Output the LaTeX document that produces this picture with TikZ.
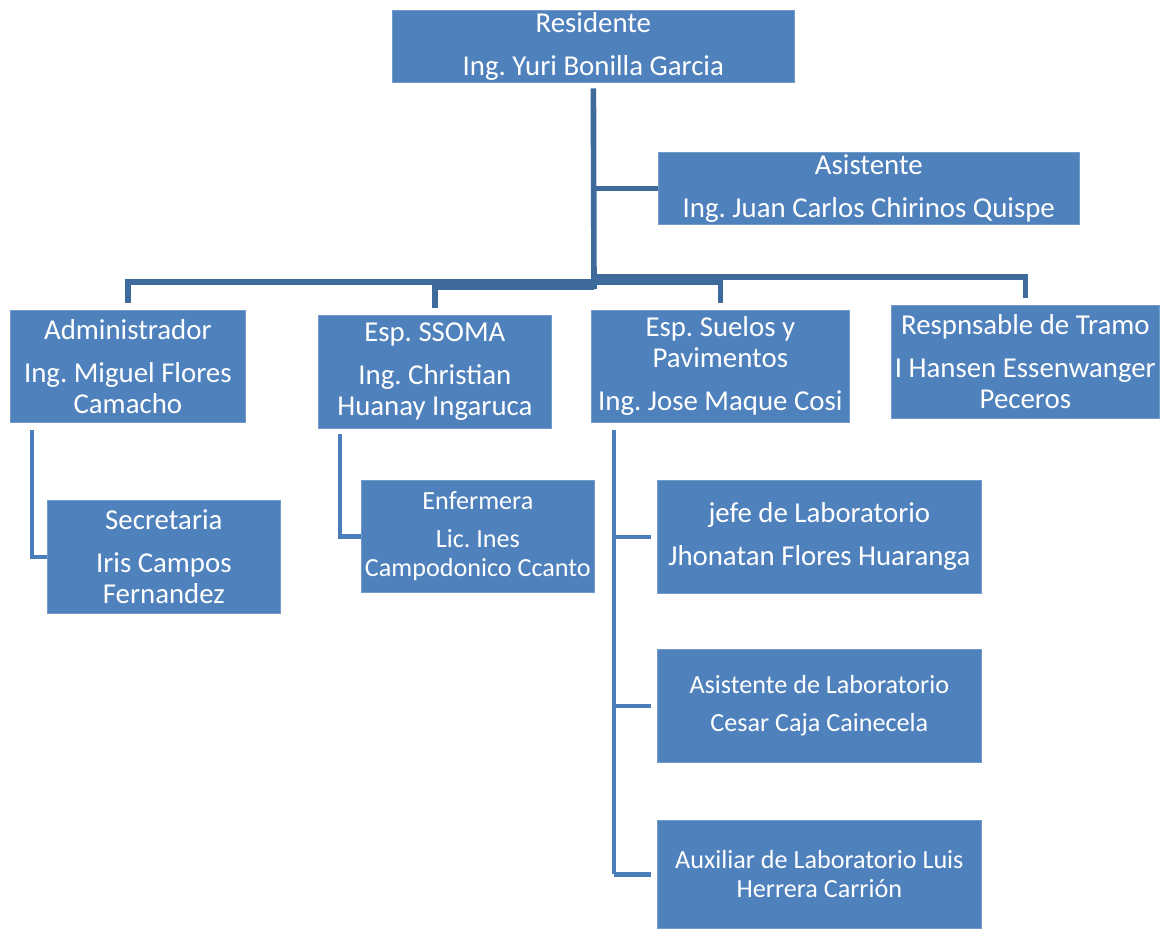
\documentclass[tikz,border=0pt]{standalone}
\usepackage{fontspec}
\setmainfont{Carlito}
\frenchspacing
\definecolor{boxblue}{HTML}{4F81BD}
\definecolor{trunkblue}{HTML}{3F6B9C}
\definecolor{linkblue}{HTML}{4A7EBB}
\begin{document}
\begin{tikzpicture}[x=0.025cm,y=-0.025cm,
    size/.style 2 args={minimum width=#1*0.025cm,minimum height=#2*0.025cm},
    box/.style={anchor=north west,rectangle,fill=boxblue,draw=boxblue!80!white,line width=0.5pt,
      text=white,inner sep=0pt,align=center,font=\fontsize{20.5}{22}\selectfont},
    smallbox/.style={box,font=\fontsize{18.6}{20.5}\selectfont},
    trunk/.style={draw=trunkblue,line width=4pt},
    link/.style={draw=linkblue,line width=3.2pt}]
    \useasboundingbox (0,0) rectangle (1164,929);

    %Boxes
    \node[box,size={402}{72}] (res) at (392,10) {Residente\\[8.5pt]Ing. Yuri Bonilla Garcia};
    \node[box,size={421}{72}] (asis) at (658,152) {Asistente\\[8.5pt]Ing. Juan Carlos Chirinos Quispe};
    \node[box,size={235}{112}] (adm) at (10,310) {Administrador\\[8.5pt]Ing. Miguel Flores\\Camacho};
    \node[box,size={233}{113}] (ssoma) at (318,315) {Esp. SSOMA\\[8.5pt]Ing. Christian\\Huanay Ingaruca};
    \node[box,size={258}{112}] (suelos) at (591,310) {Esp. Suelos y\\Pavimentos\\[8.5pt]Ing. Jose Maque Cosi};
    \node[box,size={268}{113}] (tramo) at (891,305) {Respnsable de Tramo\\[8.5pt]I Hansen Essenwanger\\Peceros};
    \node[box,size={233}{113}] (sec) at (47,500) {Secretaria\\[8.5pt]Iris Campos\\Fernandez};
    \node[smallbox,size={233}{112}] (enf) at (361,480) {Enfermera\\[6.4pt]Lic. Ines\\Campodonico Ccanto};
    \node[box,size={324}{113}] (jefe) at (657,480) {jefe de Laboratorio\\[8.5pt]Jhonatan Flores Huaranga};
    \node[smallbox,size={324}{113}] (alab) at (657,649) {Asistente de Laboratorio\\[6.4pt]Cesar Caja Cainecela};
    \node[smallbox,size={324}{108}] (aux) at (657,820) {Auxiliar de Laboratorio Luis\\Herrera Carri\'on};

    %Main line
    \coordinate (hub) at (594,289);
    \draw[trunk,shorten <=4pt] (res.south) -- (hub);
    \draw[trunk] (res.south |- asis.west) -- (asis.west);
    \coordinate (ja) at (594,282);
    \coordinate (jb) at (594,287);
    \coordinate (jc) at (594,282);
    \coordinate (jd) at (594,277);
    \draw[trunk,shorten >=5pt] (ja) -| (adm.north);
    \draw[trunk,shorten >=5pt] (jb) -| (ssoma.north);
    \draw[trunk,shorten >=5pt] (jc) -| (suelos.north);
    \draw[trunk,shorten >=5pt] (jd) -| (tramo.north);

    %Sub lines
    \coordinate (sa) at (32,430);
    \coordinate (sb) at (340,434);
    \coordinate (sc) at (614,430);
    \draw[link] (sa) |- (sec.west);
    \draw[link] (sb) |- (enf.west);
    \draw[link] (sc) -- (sc |- aux.west);
    \draw[link,shorten >=4pt] (sc |- jefe.west) -- (jefe.west);
    \draw[link,shorten >=4pt] (sc |- alab.west) -- (alab.west);
    \draw[link,shorten >=4pt] (sc |- aux.west) -- (aux.west);
\end{tikzpicture}
\end{document}
